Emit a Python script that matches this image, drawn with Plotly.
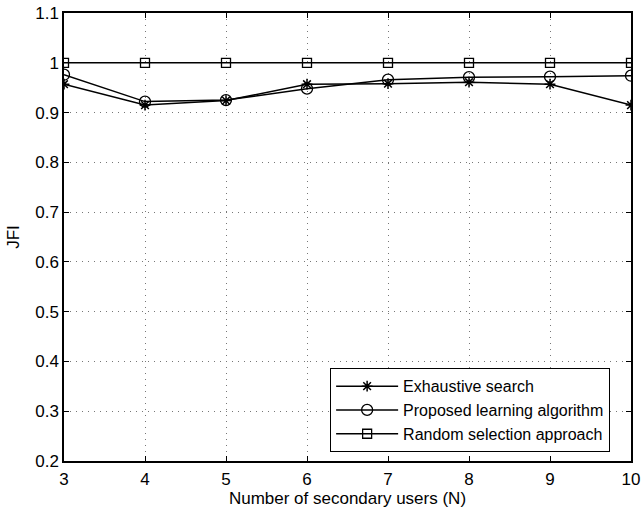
import plotly.graph_objects as go

N = [3, 4, 5, 6, 7, 8, 9, 10]
exhaustive = [0.957, 0.915, 0.924, 0.957, 0.958, 0.961, 0.957, 0.915]
proposed = [0.976, 0.922, 0.925, 0.948, 0.966, 0.971, 0.972, 0.974]
random_sel = [1.0, 1.0, 1.0, 1.0, 1.0, 1.0, 1.0, 1.0]

y_ticks = [0.2, 0.3, 0.4, 0.5, 0.6, 0.7, 0.8, 0.9, 1.0, 1.1]
y_tick_text = ["0.2", "0.3", "0.4", "0.5", "0.6", "0.7", "0.8", "0.9", "1", "1.1"]

FS = 17

fig = go.Figure()
fig.add_trace(go.Scatter(x=N, y=exhaustive, mode="lines+markers", name="Exhaustive search",
                         line=dict(color="black", width=1.5),
                         marker=dict(symbol="asterisk-open", size=9, color="black",
                                     line=dict(color="black", width=1.5))))
fig.add_trace(go.Scatter(x=N, y=proposed, mode="lines+markers", name="Proposed learning algorithm",
                         line=dict(color="black", width=1.5),
                         marker=dict(symbol="circle-open", size=11, color="black",
                                     line=dict(color="black", width=1.3))))
fig.add_trace(go.Scatter(x=N, y=random_sel, mode="lines+markers", name="Random selection approach",
                         line=dict(color="black", width=1.5),
                         marker=dict(symbol="square-open", size=9, color="black",
                                     line=dict(color="black", width=1.3))))

axis_common = dict(showline=True, linecolor="black", linewidth=1.5, mirror="ticks",
                   ticks="inside", ticklen=5, tickcolor="black",
                   showgrid=True, gridcolor="#777777", griddash="1px,5px", gridwidth=1,
                   zeroline=False, tickfont=dict(size=FS, color="black"), automargin=False)

fig.update_xaxes(range=[3, 10], tickvals=N, ticklabelstandoff=2,
                 title=dict(text="Number of secondary users (N)",
                            font=dict(size=FS, color="black"), standoff=2), **axis_common)
fig.update_yaxes(range=[0.2, 1.1], tickvals=y_ticks, ticktext=y_tick_text,
                 title=dict(text="JFI", font=dict(size=FS, color="black"), standoff=11), **axis_common)

fig.update_layout(
    width=641, height=510,
    margin=dict(l=64, r=10, t=13, b=49),
    paper_bgcolor="white", plot_bgcolor="white",
    font=dict(family="Liberation Sans, Arial, sans-serif", size=FS, color="black"),
    legend=dict(x=0.469, y=0.02, xanchor="left", yanchor="bottom",
                bgcolor="white", bordercolor="black", borderwidth=1.2,
                font=dict(size=16), tracegroupgap=0, itemwidth=62),
    showlegend=True,
)

fig.write_html("out.html", config={"displayModeBar": False},
               post_script="document.body.style.margin='0px';document.body.style.overflow='hidden';")
